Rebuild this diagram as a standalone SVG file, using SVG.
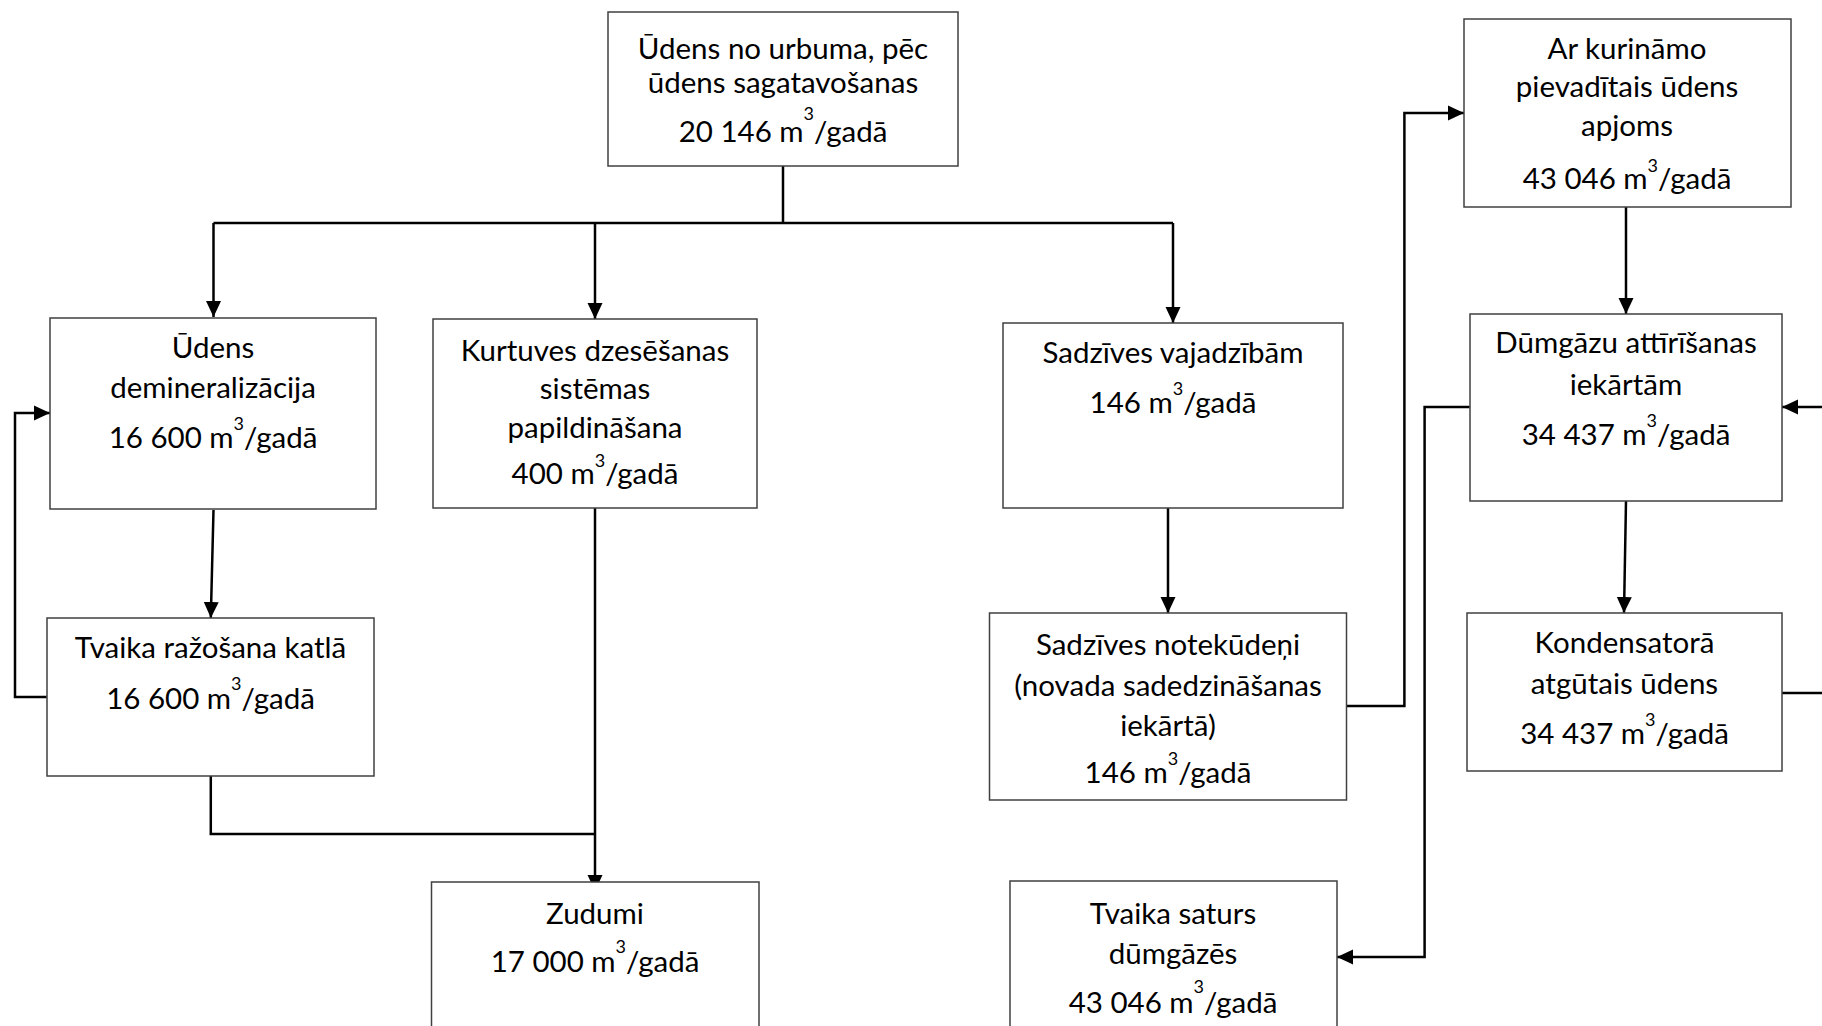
<svg xmlns="http://www.w3.org/2000/svg" width="1822" height="1026" viewBox="0 0 1822 1026">
<style>
  .box{fill:#fff;stroke:#404040;stroke-width:1.5}
  .t{font-family:Lato,"Liberation Sans",sans-serif;font-size:29.5px;fill:#000;text-anchor:middle}
  .sup{font-size:18px}
  .c{fill:none;stroke:#000;stroke-width:2.5}
</style>
<defs>
  <marker id="ah" markerUnits="userSpaceOnUse" markerWidth="17" markerHeight="17" viewBox="0 0 17 17" refX="16" refY="8.5" orient="auto">
    <path d="M0,1 L16,8.5 L0,16 Z" fill="#000"/>
  </marker>
</defs>
<rect width="1822" height="1026" fill="#fff"/>

<g id="connectors">
  <path class="c" d="M783,166 V223"/>
  <path class="c" d="M213.5,223 H1173"/>
  <path class="c" d="M213.5,223 V317" marker-end="url(#ah)"/>
  <path class="c" d="M595,223 V319" marker-end="url(#ah)"/>
  <path class="c" d="M1173,223 V323" marker-end="url(#ah)"/>
  <path class="c" d="M213.5,510 L210.8,618" marker-end="url(#ah)"/>
  <path class="c" d="M46.7,697 H15 V413 H50" marker-end="url(#ah)"/>
  <path class="c" d="M210.8,776 V834 H595"/>
  <path class="c" d="M595,508 V891" marker-end="url(#ah)"/>
  <path class="c" d="M1168,508 V613" marker-end="url(#ah)"/>
  <path class="c" d="M1347,706 H1404.4 V113 H1464" marker-end="url(#ah)"/>
  <path class="c" d="M1626,207 V314" marker-end="url(#ah)"/>
  <path class="c" d="M1469.7,407 H1424.6 V957 H1337" marker-end="url(#ah)"/>
  <path class="c" d="M1626,501 L1624,613" marker-end="url(#ah)"/>
  <path class="c" d="M1782,693 H1840 V407 H1782" marker-end="url(#ah)"/>
</g>

<g id="n_urbums">
  <rect class="box" x="608" y="12" width="350" height="154"/>
  <text class="t" x="783" y="59">Ūdens no urbuma, pēc</text>
  <text class="t" x="783" y="93">ūdens sagatavošanas</text>
  <text class="t" x="783" y="142">20 146 m<tspan class="sup" dy="-22">3</tspan><tspan dy="22">/gadā</tspan></text>
</g>

<g id="n_demin">
  <rect class="box" x="50" y="318" width="326" height="191"/>
  <text class="t" x="213" y="358">Ūdens</text>
  <text class="t" x="213" y="398">demineralizācija</text>
  <text class="t" x="213" y="448">16 600 m<tspan class="sup" dy="-18">3</tspan><tspan dy="18">/gadā</tspan></text>
</g>

<g id="n_kurtuve">
  <rect class="box" x="433" y="319" width="324" height="189"/>
  <text class="t" x="595" y="361">Kurtuves dzesēšanas</text>
  <text class="t" x="595" y="399">sistēmas</text>
  <text class="t" x="595" y="438">papildināšana</text>
  <text class="t" x="595" y="484">400 m<tspan class="sup" dy="-17">3</tspan><tspan dy="17">/gadā</tspan></text>
</g>

<g id="n_sadzive">
  <rect class="box" x="1003" y="323" width="340" height="185"/>
  <text class="t" x="1173" y="363">Sadzīves vajadzībām</text>
  <text class="t" x="1173" y="413">146 m<tspan class="sup" dy="-18">3</tspan><tspan dy="18">/gadā</tspan></text>
</g>

<g id="n_kurinamais">
  <rect class="box" x="1464" y="19" width="327" height="188"/>
  <text class="t" x="1627" y="59">Ar kurināmo</text>
  <text class="t" x="1627" y="97">pievadītais ūdens</text>
  <text class="t" x="1627" y="136">apjoms</text>
  <text class="t" x="1627" y="189">43 046 m<tspan class="sup" dy="-17">3</tspan><tspan dy="17">/gadā</tspan></text>
</g>

<g id="n_dumgazu">
  <rect class="box" x="1470" y="314" width="312" height="187"/>
  <text class="t" x="1626" y="353">Dūmgāzu attīrīšanas</text>
  <text class="t" x="1626" y="395">iekārtām</text>
  <text class="t" x="1626" y="445">34 437 m<tspan class="sup" dy="-18">3</tspan><tspan dy="18">/gadā</tspan></text>
</g>

<g id="n_tvaika">
  <rect class="box" x="47" y="618" width="327" height="158"/>
  <text class="t" x="210.5" y="658">Tvaika ražošana katlā</text>
  <text class="t" x="210.5" y="709">16 600 m<tspan class="sup" dy="-19">3</tspan><tspan dy="19">/gadā</tspan></text>
</g>

<g id="n_notekudeni">
  <rect class="box" x="989.5" y="613" width="357" height="187"/>
  <text class="t" x="1168" y="655">Sadzīves notekūdeņi</text>
  <text class="t" x="1168" y="696">(novada sadedzināšanas</text>
  <text class="t" x="1168" y="736">iekārtā)</text>
  <text class="t" x="1168" y="783">146 m<tspan class="sup" dy="-18">3</tspan><tspan dy="18">/gadā</tspan></text>
</g>

<g id="n_kondensators">
  <rect class="box" x="1467" y="613" width="315" height="158"/>
  <text class="t" x="1624.5" y="653">Kondensatorā</text>
  <text class="t" x="1624.5" y="694">atgūtais ūdens</text>
  <text class="t" x="1624.5" y="744">34 437 m<tspan class="sup" dy="-18">3</tspan><tspan dy="18">/gadā</tspan></text>
</g>

<g id="n_zudumi">
  <rect class="box" x="431.5" y="882" width="327.5" height="200"/>
  <text class="t" x="595" y="924">Zudumi</text>
  <text class="t" x="595" y="972">17 000 m<tspan class="sup" dy="-19">3</tspan><tspan dy="19">/gadā</tspan></text>
</g>

<g id="n_tvaika_saturs">
  <rect class="box" x="1010" y="881" width="327" height="200"/>
  <text class="t" x="1173" y="924">Tvaika saturs</text>
  <text class="t" x="1173" y="964">dūmgāzēs</text>
  <text class="t" x="1173" y="1013">43 046 m<tspan class="sup" dy="-20">3</tspan><tspan dy="20">/gadā</tspan></text>
</g>
</svg>
